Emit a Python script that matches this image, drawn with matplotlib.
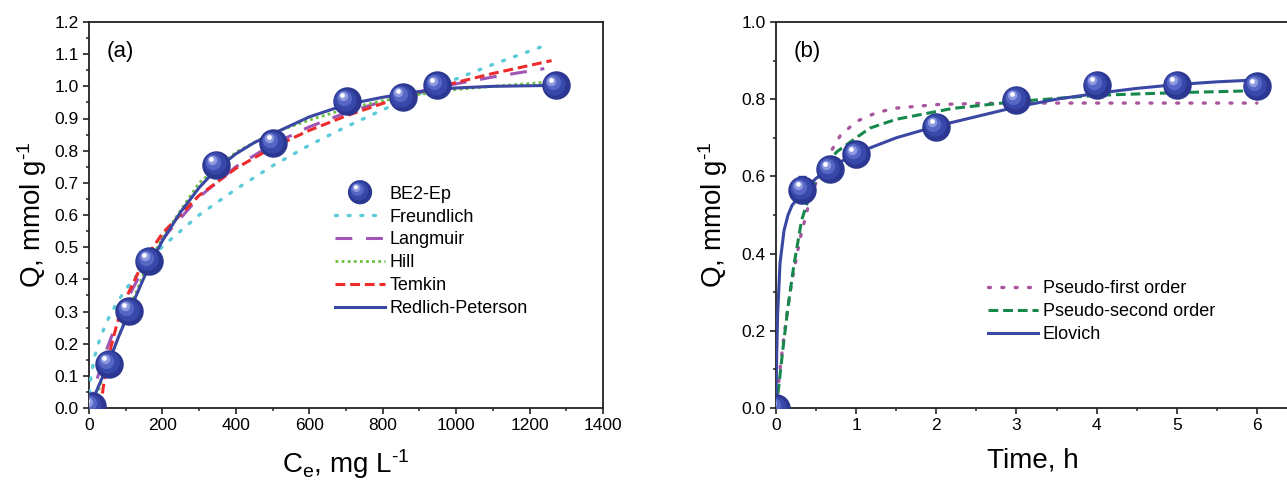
import numpy as np
import matplotlib
matplotlib.use("Agg")
import matplotlib.pyplot as plt
from matplotlib import transforms
from matplotlib.legend_handler import HandlerBase
from matplotlib.patches import Ellipse
from matplotlib.lines import Line2D

plt.rcParams['font.family'] = ['Liberation Sans', 'DejaVu Sans']
plt.rcParams['mathtext.fontset'] = 'custom'
plt.rcParams['mathtext.rm'] = 'Liberation Sans'
plt.rcParams['mathtext.it'] = 'Liberation Sans'

# ---------------- Panel (a) data: isotherm ----------------
ce_pts = [8, 55, 109, 163, 346, 502, 702, 854, 948, 1271]
q_pts = [0.005, 0.137, 0.301, 0.457, 0.756, 0.823, 0.954, 0.966, 1.003, 1.003]

freund_x = [1, 2, 5, 15, 30, 50, 75, 100, 150, 200, 300, 400, 500, 600, 700, 800, 900, 1000, 1100, 1240]
freund_y = [0.048, 0.065, 0.095, 0.159, 0.217, 0.272, 0.325, 0.369, 0.442, 0.502, 0.600, 0.680, 0.753,
            0.817, 0.874, 0.927, 0.977, 1.023, 1.068, 1.126]

lang_x = [0, 10, 25, 50, 75, 100, 150, 200, 300, 400, 500, 600, 700, 800, 900, 1000, 1100, 1240]
lang_y = [0.0, 0.043, 0.101, 0.188, 0.263, 0.329, 0.438, 0.526, 0.656, 0.750, 0.820, 0.874, 0.918,
          0.953, 0.983, 1.008, 1.029, 1.055]

hill_x = [15, 25, 35, 50, 75, 100, 150, 200, 300, 400, 500, 600, 700, 800, 900, 1000, 1100, 1270]
hill_y = [0.0, 0.05, 0.09, 0.13, 0.205, 0.28, 0.42, 0.53, 0.70, 0.795, 0.855, 0.895, 0.93, 0.955,
          0.975, 0.99, 1.0, 1.015]

temkin_x = [31, 35, 40, 50, 60, 75, 100, 150, 200, 300, 400, 500, 600, 700, 800, 900, 1000, 1100, 1260]
temkin_y = [0.0, 0.034, 0.073, 0.137, 0.191, 0.256, 0.340, 0.459, 0.543, 0.661, 0.745, 0.810, 0.863,
            0.908, 0.947, 0.982, 1.012, 1.040, 1.080]

rp_x = [0, 10, 25, 55, 80, 110, 140, 165, 200, 250, 300, 345, 400, 450, 500, 600, 700, 800, 900, 1000, 1100, 1270]
rp_y = [0.0, 0.025, 0.065, 0.145, 0.22, 0.30, 0.38, 0.445, 0.52, 0.61, 0.685, 0.74, 0.79, 0.825, 0.852,
        0.905, 0.943, 0.966, 0.984, 0.995, 1.0, 1.003]

# ---------------- Panel (b) data: kinetics ----------------
t_pts = [0, 0.33, 0.67, 1, 2, 3, 4, 5, 6]
qt_pts = [0.0, 0.565, 0.618, 0.657, 0.728, 0.798, 0.837, 0.837, 0.833]
qt_err = [0.0, 0.035, 0.02, 0.033, 0.02, 0.02, 0.02, 0.02, 0.02]

pfo_t = [0, 0.05, 0.1, 0.15, 0.2, 0.3, 0.4, 0.5, 0.6, 0.8, 1.0, 1.25, 1.5, 2, 2.5, 3, 4, 5, 6]
pfo_q = [0.0, 0.100, 0.187, 0.263, 0.330, 0.438, 0.521, 0.585, 0.634, 0.705, 0.742, 0.765, 0.777,
         0.786, 0.789, 0.790, 0.790, 0.790, 0.790]

pso_t = [0, 0.03, 0.09, 0.15, 0.22, 0.32, 0.45, 0.6, 0.76, 1.0, 1.17, 1.5, 2.2, 3, 4, 5, 6]
pso_q = [0.0, 0.047, 0.16, 0.262, 0.366, 0.487, 0.57, 0.625, 0.664, 0.70, 0.725, 0.748, 0.776, 0.794,
         0.81, 0.817, 0.822]

elo_t = [0, 0.005, 0.01, 0.02, 0.05, 0.1, 0.15, 0.2, 0.3, 0.4, 0.5, 0.67, 0.8, 1.0, 1.5, 2, 2.5, 3,
         3.5, 4, 4.5, 5, 5.5, 6]
elo_q = [0.0, 0.09, 0.15, 0.24, 0.375, 0.46, 0.50, 0.525, 0.55, 0.575, 0.595, 0.62, 0.637, 0.66, 0.70,
         0.73, 0.755, 0.78, 0.80, 0.815, 0.828, 0.838, 0.845, 0.85]

BLUE = '#3a47a3'
BALL_LAYERS = [  # (dx px, dy px, marker size pt, colour)
    (0, 0, 20.5, '#2b3790'),
    (-1.5, 1.5, 16.0, '#3848aa'),
    (-3, 3.2, 11.0, '#5566c4'),
    (-4.2, 4.8, 6.8, '#8d9ae0'),
    (-4.8, 5.8, 3.4, '#ffffff'),
]

fig = plt.figure(figsize=(12.87, 4.80), dpi=100)
W, H = 1287.0, 480.0


def balls(ax, x, y, zorder=5):
    for dx, dy, s, c in BALL_LAYERS:
        tr = transforms.offset_copy(ax.transData, fig=fig, x=dx, y=dy, units='dots')
        ax.plot(x, y, ls='none', marker='o', ms=s, mfc=c, mec='none',
                transform=tr, zorder=zorder, clip_on=True)


class BallHandler(HandlerBase):
    def create_artists(self, legend, orig_handle, xdescent, ydescent, width, height, fontsize, trans):
        cx = width / 2 - xdescent
        cy = height / 2 - ydescent
        arts = []
        for dx, dy, s, c in BALL_LAYERS:
            r = s * 0.5 * 0.85
            e = Ellipse((cx + dx * 0.62, cy + dy * 0.62), 2 * r, 2 * r, facecolor=c, edgecolor='none',
                        transform=trans)
            arts.append(e)
        return arts


def style_axes(ax):
    for sp in ax.spines.values():
        sp.set_linewidth(1.3)
        sp.set_color('#222222')
    ax.tick_params(which='major', direction='out', length=4.5, width=1.2, labelsize=12.5,
                   color='#222222', top=False, right=False, pad=3)
    ax.tick_params(which='minor', direction='out', length=2.5, width=1.1, color='#222222',
                   top=False, right=False)


YLABEL = r'Q, mmol g$^{\text{-1}}$'

# ---------------- Axes (a) ----------------
ax1 = fig.add_axes([89 / W, 1 - 408 / H, 514 / W, 386 / H])
ax1.plot(freund_x, freund_y, color='#5ccbd9', lw=2.4, ls=(0, (0.6, 3.2)), dash_capstyle='round',
         label='Freundlich', zorder=3)
ax1.plot(lang_x, lang_y, color='#a155b5', lw=2.2, ls=(0, (5.5, 4.5)), label='Langmuir', zorder=3)
ax1.plot(hill_x, hill_y, color='#6cc040', lw=2.0, ls=(0, (1.0, 1.2)), label='Hill', zorder=3)
ax1.plot(temkin_x, temkin_y, color='#ee2a2a', lw=2.2, ls=(0, (3.2, 1.6)), label='Temkin', zorder=3)
ax1.plot(rp_x, rp_y, color=BLUE, lw=2.2, label='Redlich-Peterson', zorder=4)
balls(ax1, ce_pts, q_pts)
ax1.set_xlim(0, 1400)
ax1.set_ylim(0, 1.2)
ax1.set_xticks(np.arange(0, 1401, 200))
ax1.set_xticks(np.arange(0, 1401, 100), minor=True)
ax1.set_yticks(np.arange(0, 1.21, 0.1))
ax1.set_yticks(np.arange(0, 1.21, 0.05), minor=True)
ax1.yaxis.set_major_formatter(matplotlib.ticker.FormatStrFormatter('%.1f'))
style_axes(ax1)
ax1.set_xlabel(r'C$_\mathrm{e}$, mg L$^{\text{-1}}$', fontsize=20, labelpad=10)
ax1.set_ylabel(YLABEL, fontsize=20, labelpad=4)
ax1.text(0.035, 0.95, '(a)', transform=ax1.transAxes, fontsize=16, va='top', ha='left')

ball_handle = Line2D([], [], ls='none', marker='o', color=BLUE)
h1, l1 = ax1.get_legend_handles_labels()
leg1 = ax1.legend([ball_handle] + h1, ['BE2-Ep'] + l1, loc='upper left',
                  bbox_to_anchor=(0.465, 0.595), frameon=False, fontsize=13,
                  handlelength=2.75, handletextpad=0.25, labelspacing=0.33, borderaxespad=0,
                  handler_map={ball_handle: BallHandler()})

# ---------------- Axes (b) ----------------
ax2 = fig.add_axes([776 / W, 1 - 408 / H, 513 / W, 386 / H])
ax2.errorbar(t_pts, qt_pts, yerr=qt_err, fmt='none', ecolor='#2b3790', elinewidth=1.0, capsize=3,
             capthick=1.0, zorder=4)
ax2.plot(pfo_t, pfo_q, color='#a9569f', lw=2.4, ls=(0, (0.6, 3.4)), dash_capstyle='round',
         label='Pseudo-first order', zorder=3)
ax2.plot(pso_t, pso_q, color='#16884c', lw=2.2, ls=(0, (3.2, 1.6)), label='Pseudo-second order', zorder=3)
ax2.plot(elo_t, elo_q, color=BLUE, lw=2.2, label='Elovich', zorder=4)
balls(ax2, t_pts, qt_pts)
ax2.set_xlim(0, 6.4)
ax2.set_ylim(0, 1.0)
ax2.set_xticks(np.arange(0, 7, 1))
ax2.set_xticks(np.arange(0, 6.5, 0.5), minor=True)
ax2.set_yticks(np.arange(0, 1.01, 0.2))
ax2.set_yticks(np.arange(0, 1.01, 0.1), minor=True)
ax2.yaxis.set_major_formatter(matplotlib.ticker.FormatStrFormatter('%.1f'))
style_axes(ax2)
ax2.set_xlabel('Time, h', fontsize=20, labelpad=10)
ax2.set_ylabel(YLABEL, fontsize=20, labelpad=8)
ax2.text(0.035, 0.95, '(b)', transform=ax2.transAxes, fontsize=16, va='top', ha='left')
ax2.legend(loc='upper left', bbox_to_anchor=(0.40, 0.35), frameon=False, fontsize=13,
           handlelength=2.75, handletextpad=0.25, labelspacing=0.33, borderaxespad=0)

fig.savefig('out.png', dpi=100)
